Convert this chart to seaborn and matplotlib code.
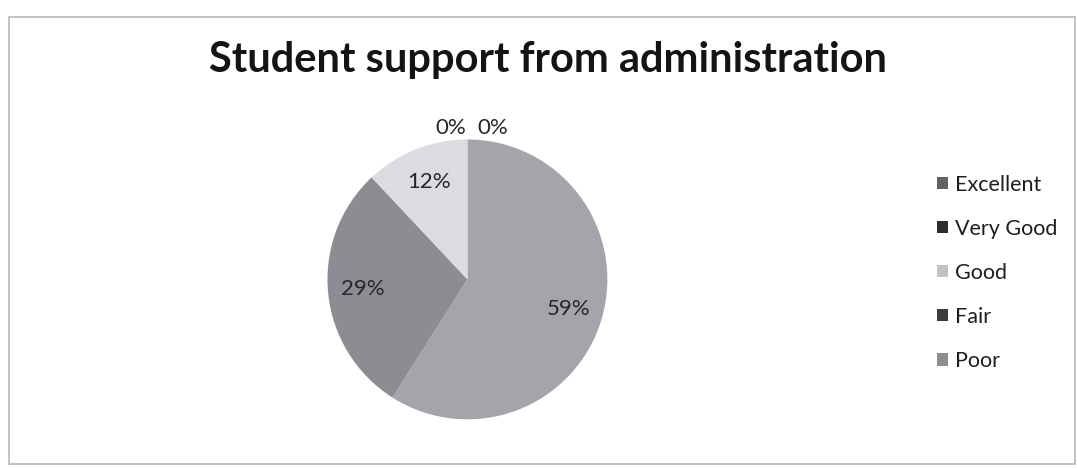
import matplotlib
matplotlib.use("Agg")
import matplotlib.pyplot as plt
import seaborn as sns
from matplotlib.patches import Patch, Rectangle

# survey responses (percent), in legend order
CATEGORIES = ["Excellent", "Very Good", "Good", "Fair", "Poor"]
PERCENTS = [59, 29, 12, 0, 0]
TITLE = "Student support from administration"

# greys as they appear in the photocopied chart
SLICE_COLORS = ["#a4a4aa", "#8c8c92", "#dcdce0", "#3a3a3a", "#909094"]
LEGEND_COLORS = ["#626266", "#2e2e30", "#c2c2c4", "#3c3c3e", "#8e8e92"]

sns.set_theme(style="white")
plt.rcParams["font.family"] = ["Lato", "DejaVu Sans"]

fig = plt.figure(figsize=(10.77, 4.68), dpi=100)
fig.patch.set_facecolor("white")

# faint frame of the scanned chart
fig.add_artist(Rectangle((0.008, 0.008), 0.99, 0.955, transform=fig.transFigure,
                         fill=False, edgecolor="#b8b8b8", linewidth=1.2))

fig.text(0.509, 0.872, TITLE, ha="center", va="center", fontsize=30,
         fontweight="bold", color="#141414")

ax = fig.add_axes([0.304, 0.104, 0.26, 0.598])
wedges, texts, autotexts = ax.pie(
    PERCENTS,
    colors=SLICE_COLORS,
    startangle=90,
    counterclock=False,
    autopct=lambda v: f"{v:.0f}%" if v > 0.5 else "",
    pctdistance=0.75,
    wedgeprops={"linewidth": 0},
    textprops={"fontsize": 16, "color": "#262626"},
)
ax.set_aspect("equal")
ax.set_xlim(-1, 1)
ax.set_ylim(-1, 1)

# the two empty categories get their labels just above the top of the pie
zero_idx = [i for i, p in enumerate(PERCENTS) if p == 0]
for k, i in enumerate(zero_idx):
    ax.text(-0.12 + 0.3 * k, 1.08, f"{PERCENTS[i]}%", ha="center", va="center",
            fontsize=16, color="#262626")

handles = [Patch(facecolor=c, edgecolor="none") for c in LEGEND_COLORS]
fig.legend(handles, CATEGORIES, loc="center left", bbox_to_anchor=(0.852, 0.417),
           frameon=False, fontsize=15.5, handlelength=0.5, handleheight=0.5,
           handletextpad=0.35, labelspacing=1.12, labelcolor="#1e1e1e")

fig.savefig("out.png", dpi=100)
